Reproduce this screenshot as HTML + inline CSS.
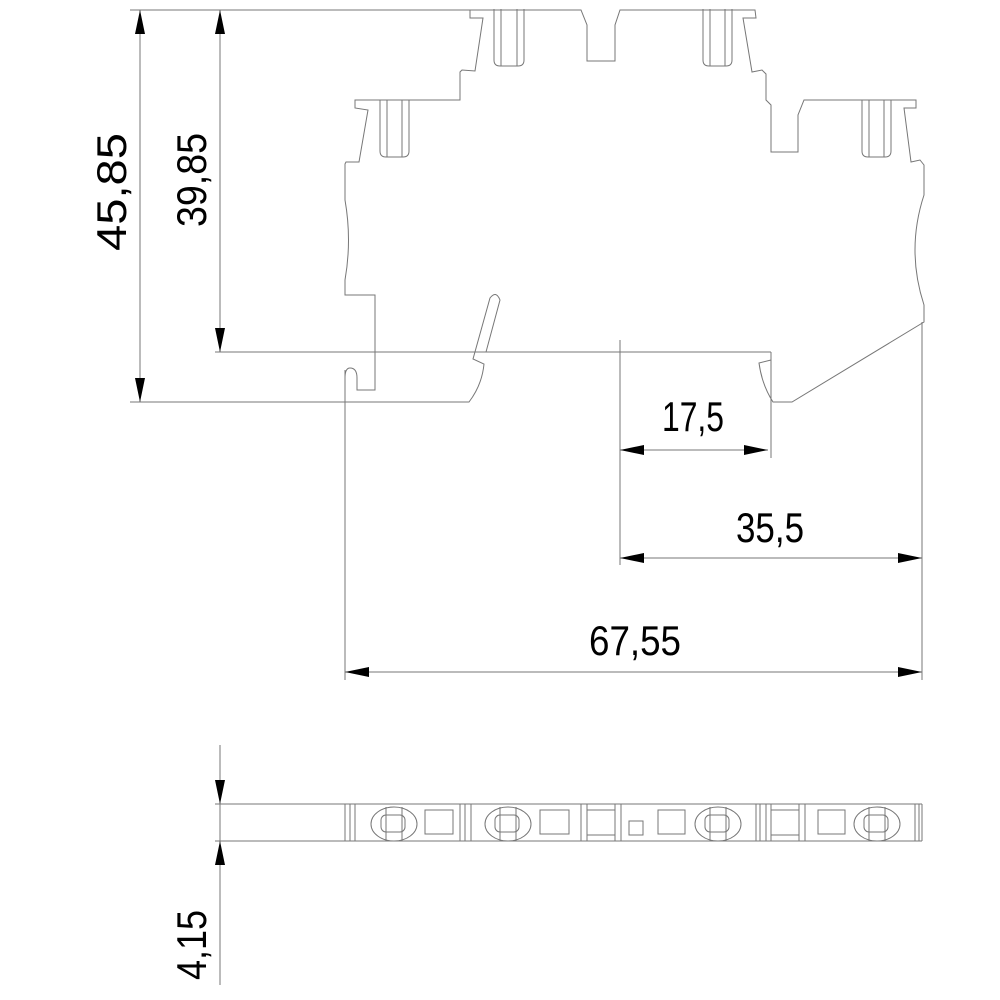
<!DOCTYPE html>
<html><head><meta charset="utf-8"><style>
html,body{margin:0;padding:0;background:#fff;width:1000px;height:1000px;overflow:hidden}
svg{display:block}
text{font-family:"Liberation Sans",sans-serif;font-size:42px;fill:#000}
</style></head><body>
<svg width="1000" height="1000" viewBox="0 0 1000 1000" xmlns="http://www.w3.org/2000/svg">
<g fill="none" stroke="#777" stroke-width="1">
<path d="M470,10 L581,10 L587,25 L587,61 L615,61 L615,25 L620,10 L755,10 L756,18 L743,18 L752,72 L762,70 L766,74 L766,100 L771,105 L771,152 L798,152 L798,115 L804,100 L916,100 L916,108 L904,108 L911,162 L920,160 L924,165 L924,195 Q906,250 924,305 L924,322 L792,402 L773,402 Q762,385 759,363 L771,360"/>
<path d="M470,10 L470,18 L483,18 L475,71 L462,70 L460,72 L460,100 L355,100 L355,108 L368,110 L359,162 L346,162 L345,164 L345,200 Q352,240 345,280 L345,295 L375,295 L375,390 L357,390 L357,378 Q357,368 350,368 Q345,368 345,378 L345,402"/>
<path d="M340,402 L469,402 Q482,385 484,364 L473,359 L490,298 Q496,290 500,300 L486,352"/>
<path d="M494,9 L494,60 Q494,66 500,66 L518,66 Q524,66 524,60 L524,9 M501,9 V66 M517,9 V66"/>
<path d="M703,9 L703,60 Q703,66 709,66 L726,66 Q732,66 732,60 L732,9 M710,9 V66 M725,9 V66"/>
<path d="M380,100 L380,151 Q380,157 386,157 L403,157 Q409,157 409,151 L409,100 M387,100 V157 M402,100 V157"/>
<path d="M862,100 L862,151 Q862,157 868,157 L885,157 Q891,157 891,151 L891,100 M869,100 V157 M884,100 V157"/>
<path d="M130,10 H470 M215,352 H771 M130,402 H340 M620,340 V565 M771,352 V458 M922,322 V680 M345,370 V680"/>
<path d="M140,10 V402 M220,10 V352 M620,450 H768 M620,558 H922 M345,672 H922 M220,745 V985 M215,804 H345 M215,841 H345"/>
<path d="M345,804 H922 M345,841 H922 M345,804 V841 M350,804 V841 M355,804 V841 M460,804 V841 M465,804 V841 M471,804 V841 M581,804 V841 M587,804 V841 M615,804 V841 M621,804 V841 M756,804 V841 M760,804 V841 M766,804 V841 M771,804 V841 M799,804 V841 M805,804 V841 M915,804 V841 M919,804 V841 M922,804 V841"/>
<path d="M587,810 H615 M587,835 H615 M771,810 H799 M771,835 H799"/>
<rect x="425" y="810" width="28" height="24"/><rect x="540" y="810" width="29" height="24"/>
<rect x="658" y="810" width="27" height="24"/><rect x="818" y="810" width="27" height="24"/>
<rect x="629" y="821" width="14" height="14"/>
<g><ellipse cx="394" cy="824" rx="23" ry="17"/><rect x="381" y="815" width="24" height="17" rx="5"/><path d="M386,807 V841 M402,807 V841"/></g>
<g><ellipse cx="508" cy="824" rx="23" ry="17"/><rect x="495" y="815" width="24" height="17" rx="5"/><path d="M500,807 V841 M516,807 V841"/></g>
<g><ellipse cx="718" cy="824" rx="23" ry="17"/><rect x="705" y="815" width="24" height="17" rx="5"/><path d="M710,807 V841 M726,807 V841"/></g>
<g><ellipse cx="877" cy="824" rx="23" ry="17"/><rect x="864" y="815" width="24" height="17" rx="5"/><path d="M869,807 V841 M885,807 V841"/></g>
</g>
<g fill="#000">
<path d="M140,10 l-5,24 h10z M140,402 l-5,-24 h10z"/>
<path d="M220,10 l-5,24 h10z M220,352 l-5,-24 h10z"/>
<path d="M620,450 l24,-5 v10z M768,450 l-24,-5 v10z"/>
<path d="M620,558 l24,-5 v10z M922,558 l-24,-5 v10z"/>
<path d="M345,672 l24,-5 v10z M922,672 l-24,-5 v10z"/>
<path d="M220,804 l-5,-24 h10z M220,841 l-5,24 h10z"/>
</g>
<text x="0" y="0" transform="translate(126,192) rotate(-90)" text-anchor="middle" textLength="118" lengthAdjust="spacingAndGlyphs">45,85</text>
<text x="0" y="0" transform="translate(206,180) rotate(-90)" text-anchor="middle" textLength="94" lengthAdjust="spacingAndGlyphs">39,85</text>
<text x="693" y="431" text-anchor="middle" textLength="62" lengthAdjust="spacingAndGlyphs">17,5</text>
<text x="770" y="542" text-anchor="middle" textLength="68" lengthAdjust="spacingAndGlyphs">35,5</text>
<text x="635" y="655" text-anchor="middle" textLength="92" lengthAdjust="spacingAndGlyphs">67,55</text>
<text x="0" y="0" transform="translate(206,945) rotate(-90)" text-anchor="middle" textLength="70" lengthAdjust="spacingAndGlyphs">4,15</text>
</svg>
</body></html>
